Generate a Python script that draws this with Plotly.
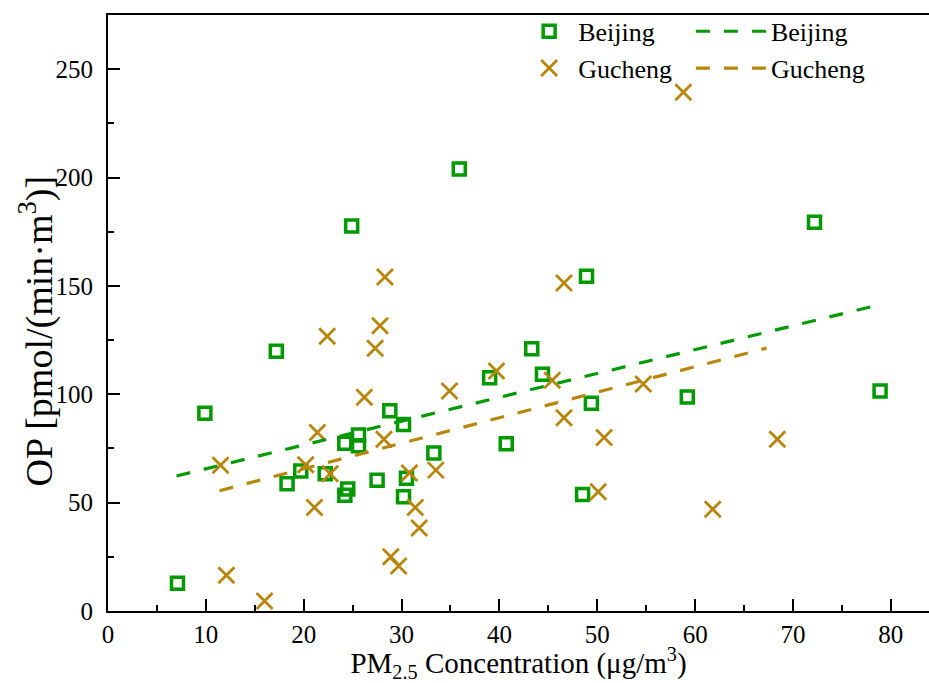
import plotly.graph_objects as go
import numpy as np

# Beijing data (PM2.5, OP)
bj_x = [7.1, 9.9, 17.2, 24.9, 18.3, 19.7, 22.2, 24.2, 25.6, 25.6, 24.2, 24.5, 27.5, 28.8,
        30.2, 30.5, 30.2, 33.3, 43.3, 39.0, 44.4, 49.4, 40.7, 48.5, 59.2, 35.9, 48.9, 72.2, 78.9]
bj_y = [12.8, 91.3, 119.9, 177.6, 58.7, 64.6, 63.3, 77.4, 81.2, 76.3, 53.4, 56.3, 60.3, 92.4,
        86.1, 61.2, 52.7, 72.9, 121.0, 107.6, 109.2, 95.9, 77.2, 53.8, 98.7, 203.9, 154.5, 179.4, 101.5]

# Gucheng data
gc_x = [27.8, 22.4, 27.3, 26.2, 34.9, 21.4, 28.2, 11.5, 20.2, 22.7, 30.8, 33.5, 21.1, 31.4,
        31.8, 28.9, 29.7, 12.1, 16.0, 39.7, 45.4, 54.7, 46.6, 50.7, 50.1, 61.8, 28.3, 46.6, 58.8, 68.4]
gc_y = [131.6, 126.8, 121.2, 98.6, 101.5, 82.4, 79.2, 67.3, 67.5, 63.3, 63.7, 65.0, 47.8, 47.8,
        38.3, 25.0, 20.8, 16.5, 4.6, 110.7, 106.5, 104.7, 89.2, 80.1, 55.0, 47.0, 154.1, 151.3, 239.4, 79.3]

# Linear fits (intercept, slope) and x extents
bj_fit = [54.6, 1.10]
gc_fit = [42.1, 1.177]
bj_fit_x = [7.0, 79.1]
gc_fit_x = [11.4, 67.3]

GREEN = "rgb(0,153,0)"
GOLD = "rgb(184,134,11)"
FONT = "Liberation Serif"

bj_lx = np.array(bj_fit_x)
gc_lx = np.array(gc_fit_x)

fig = go.Figure()
fig.add_trace(go.Scatter(x=bj_x, y=bj_y, mode="markers", name="Beijing", legend="legend",
                         legendgroup="a",
                         marker=dict(symbol="square-open", size=12, color=GREEN,
                                     line=dict(width=3.5, color=GREEN))))
fig.add_trace(go.Scatter(x=gc_x, y=gc_y, mode="markers", name="Gucheng", legend="legend",
                         legendgroup="b",
                         marker=dict(symbol="x-thin-open", size=16, color=GOLD,
                                     line=dict(width=2.8, color=GOLD))))
fig.add_trace(go.Scatter(x=bj_lx, y=bj_fit[0] + bj_fit[1] * bj_lx, mode="lines", name="Beijing",
                         legend="legend2", legendgroup="c",
                         line=dict(color=GREEN, width=3.2, dash="14px,14px")))
fig.add_trace(go.Scatter(x=gc_lx, y=gc_fit[0] + gc_fit[1] * gc_lx, mode="lines", name="Gucheng",
                         legend="legend2", legendgroup="d",
                         line=dict(color=GOLD, width=3.2, dash="14px,14px")))

axis_common = dict(
    showgrid=False, zeroline=False, showline=True, linecolor="black", linewidth=2,
    ticks="inside", ticklen=12, tickwidth=2, tickcolor="black",
    tickfont=dict(family=FONT, size=25, color="black"),
)

fig.update_xaxes(range=[0, 83.9], dtick=10, tick0=0, mirror=True,
                 minor=dict(dtick=5, ticks="inside", ticklen=6, tickwidth=2, tickcolor="black"),
                 title=dict(text="PM<sub>2.5</sub> Concentration (μg/m<sup>3</sup>)",
                            font=dict(family=FONT, size=29, color="black"), standoff=0),
                 **axis_common)
fig.update_yaxes(range=[0, 275], dtick=50, tick0=0, mirror=False,
                 minor=dict(dtick=25, ticks="inside", ticklen=6, tickwidth=2, tickcolor="black"),
                 ticklabelstandoff=8,
                 **axis_common)

fig.add_annotation(text="OP [pmol/(min·m<sup>3</sup>)]", textangle=-90,
                   xref="paper", yref="paper", x=-0.087, y=0.47,
                   xanchor="center", yanchor="middle", showarrow=False,
                   font=dict(family=FONT, size=38, color="black"))

legend_font = dict(family=FONT, size=26, color="black")
fig.update_layout(
    width=929, height=683,
    margin=dict(l=108, r=0, t=15, b=72),
    paper_bgcolor="white", plot_bgcolor="white",
    legend=dict(x=0.502, y=1.012, xanchor="left", yanchor="top", bgcolor="rgba(0,0,0,0)",
                font=legend_font, tracegroupgap=0, itemwidth=48),
    legend2=dict(x=0.71, y=1.012, xanchor="left", yanchor="top", bgcolor="rgba(0,0,0,0)",
                 font=legend_font, tracegroupgap=0, itemwidth=70),
)

fig.write_html("out.html")
